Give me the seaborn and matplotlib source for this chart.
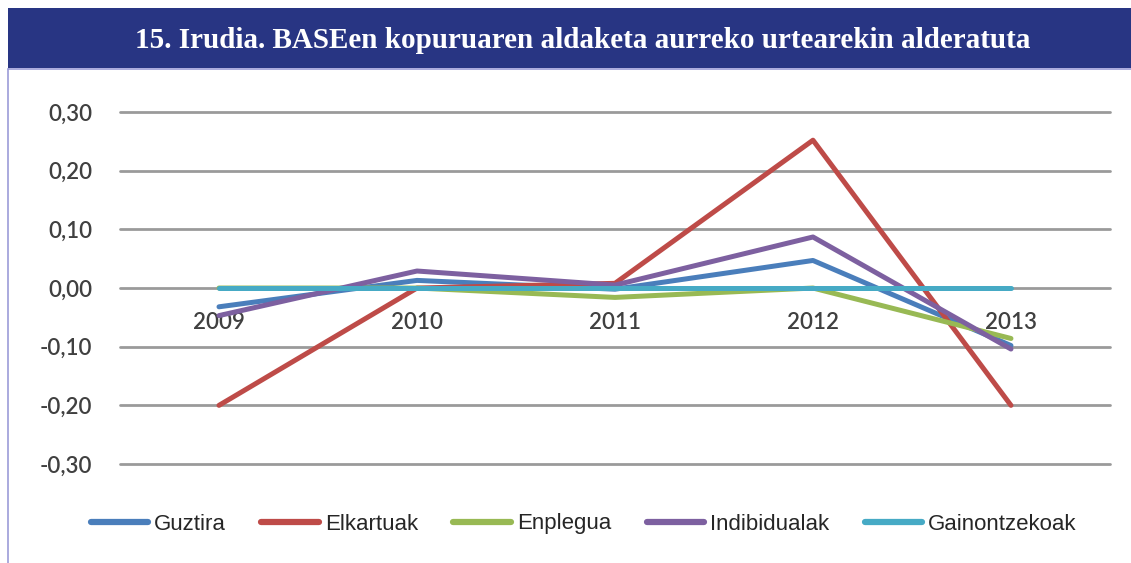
import pandas as pd
import seaborn as sns
import matplotlib.pyplot as plt
from matplotlib.patches import Rectangle
from matplotlib.lines import Line2D

years = ['2009', '2010', '2011', '2012', '2013']
series_names = ['Guztira', 'Elkartuak', 'Enplegua', 'Indibidualak', 'Gainontzekoak']
guztira = [-0.032, 0.013, -0.002, 0.047, -0.098]
elkartuak = [-0.20, 0.0, 0.008, 0.252, -0.20]
enplegua = [0.0, 0.0, -0.016, 0.0, -0.086]
indibidualak = [-0.047, 0.029, 0.005, 0.087, -0.104]
gainontzekoak = [0.0, 0.0, 0.0, 0.0, 0.0]
colors = ['#4a7ebb', '#be4b48', '#98b954', '#7d60a0', '#46aac5']
y_ticks = [0.30, 0.20, 0.10, 0.0, -0.10, -0.20, -0.30]

df = pd.DataFrame({'Urtea': years, 'Guztira': guztira, 'Elkartuak': elkartuak,
                   'Enplegua': enplegua, 'Indibidualak': indibidualak,
                   'Gainontzekoak': gainontzekoak})
df_long = pd.melt(df, id_vars=['Urtea'], var_name='Saila', value_name='Balioa')
df_long['x'] = df_long['Urtea'].map({y: i for i, y in enumerate(years)})

sns.set_style('white')
plt.rcParams['font.family'] = ['Lato', 'DejaVu Sans']

fig = plt.figure(figsize=(11.31, 5.63), dpi=100)
ax = fig.add_axes([0.1061, 0.1758, 0.8753, 0.6252])

# banner with title
fig.patches.append(Rectangle((8 / 1131, 1 - 68 / 563), 1, 60 / 563, transform=fig.transFigure,
                             facecolor='#283583', edgecolor='none', zorder=0))
fig.add_artist(Line2D([8 / 1131, 1], [1 - 69 / 563] * 2, color='#9c9cd8', lw=1.2))
fig.add_artist(Line2D([8 / 1131] * 2, [0, 1 - 69 / 563], color='#9c9cd8', lw=1.2))
fig.text(0.515, 1 - 40 / 563, '15. Irudia. BASEen kopuruaren aldaketa aurreko urtearekin alderatuta',
         color='white', fontsize=21, fontweight='bold', ha='center', va='center',
         family=['Liberation Serif', 'DejaVu Serif'])

for yv in y_ticks:
    ax.axhline(yv, color='#9a9a9a', lw=2, zorder=0, clip_on=False)

sns.lineplot(data=df_long, x='x', y='Balioa', hue='Saila', hue_order=series_names,
             palette=colors, lw=3.6, ax=ax, legend=False)

ax.set_xlim(-0.5, 4.5)
ax.set_ylim(-0.30, 0.30)
ax.set_yticks(y_ticks)
ax.set_yticklabels([('%.2f' % v).replace('.', ',') for v in y_ticks])
ax.set_xticks(range(len(years)))
ax.set_xticklabels(years)
ax.spines['bottom'].set_position(('data', 0))
for s in ax.spines.values():
    s.set_visible(False)
ax.tick_params(axis='y', length=0, pad=20, labelsize=16, labelcolor='#404040')
ax.tick_params(axis='x', length=0, pad=17, labelsize=16, labelcolor='#404040')
for lab in ax.get_yticklabels() + ax.get_xticklabels():
    lab.set_fontweight('semibold')
ax.set_xlabel('')
ax.set_ylabel('')

handles = [Line2D([0], [0], color=c, lw=4.5) for c in colors]
fig.legend(handles, series_names, loc='center', bbox_to_anchor=(0.516, 1 - 524 / 563), ncol=5,
           frameon=False, handlelength=2.6, handletextpad=0.25, columnspacing=1.6,
           prop={'family': ['Liberation Sans', 'DejaVu Sans'], 'size': 16})

fig.savefig('out.png', dpi=100)
